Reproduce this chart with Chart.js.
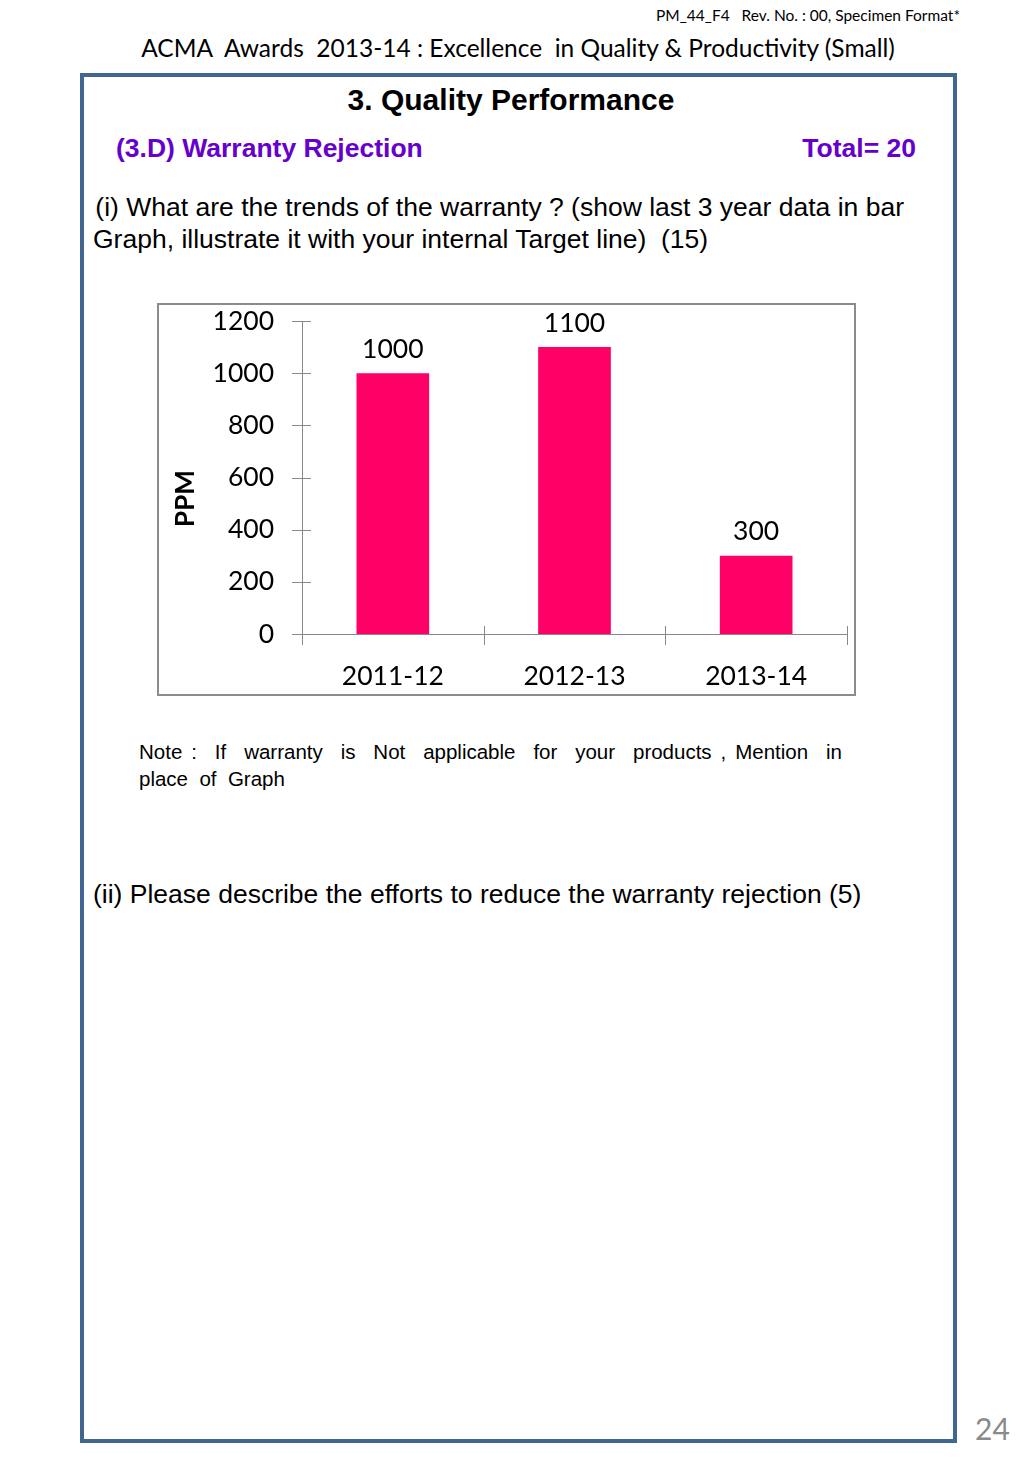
<!DOCTYPE html>
<html>
<head>
<meta charset="utf-8">
<script src="https://cdn.jsdelivr.net/npm/chart.js@4.4.0/dist/chart.umd.min.js"></script>
<style>
  body { margin: 0; background: #fff; width: 1024px; height: 1479px; position: relative; overflow: hidden; }
  .t { position: absolute; white-space: pre; line-height: 1; }
  .cal { font-family: Lato, "Open Sans", sans-serif; }
  .ar { font-family: "Liberation Sans", Arial, sans-serif; }
  #frame { position: absolute; left: 80px; top: 73px; width: 877px; height: 1370px; box-sizing: border-box; border: 4px solid #41668f; }
  #box { position: absolute; left: 157px; top: 303px; width: 699px; height: 393px; box-sizing: border-box; border: 2px solid #8c8c8c; }
  #chartWrap { position: absolute; left: 157px; top: 303px; width: 699px; height: 393px; }
</style>
</head>
<body>
<div class="t cal" style="right:64px; top:8px; font-size:15.5px;">PM_44_F4   Rev. No. : 00, Specimen Format*</div>
<div class="t cal" style="left:0; width:1036px; text-align:center; top:36px; font-size:24.5px;">ACMA  Awards  2013-14 : Excellence  in Quality &amp; Productivity (Small)</div>
<div id="frame"></div>
<div class="t ar" style="left:0; width:1022px; text-align:center; top:85px; font-size:30px; font-weight:bold;">3. Quality Performance</div>
<div class="t ar" style="left:116px; top:135px; font-size:26.5px; font-weight:bold; color:#6600cc;">(3.D) Warranty Rejection</div>
<div class="t ar" style="right:108px; top:135px; font-size:26.5px; font-weight:bold; color:#6600cc;">Total= 20</div>
<div class="t ar" style="left:88px; top:194px; font-size:26.5px;"> (i) What are the trends of the warranty ? (show last 3 year data in bar</div>
<div class="t ar" style="left:93px; top:226px; font-size:26.5px;">Graph, illustrate it with your internal Target line)  (15)</div>
<div id="box"></div>
<div id="chartWrap"><canvas id="chart" width="699" height="393"></canvas></div>
<div class="t ar" style="left:139px; top:742px; font-size:20.5px; width:703px; text-align:justify; text-align-last:justify;">Note :  If  warranty  is  Not  applicable  for  your  products , Mention  in</div>
<div class="t ar" style="left:139px; top:769px; font-size:20.5px;">place  of  Graph</div>
<div class="t ar" style="left:93px; top:881px; font-size:26.5px;">(ii) Please describe the efforts to reduce the warranty rejection (5)</div>
<div class="t cal" style="left:975px; top:1413px; font-size:30px; color:#8a8a8a;">24</div>
<script>
// dados do grafico
const years = ["2011-12", "2012-13", "2013-14"];
const ppm = [1000, 1100, 300];
const yTicks = [0, 200, 400, 600, 800, 1000, 1200];
const yTitle = "PPM";

const axisColor = "#888888";
const chartFont = "Lato, 'Open Sans', sans-serif";

// marcas que cruzam os eixos, como no grafico original
const crossTicks = {
  id: "crossTicks",
  afterDraw(chart) {
    const ctx = chart.ctx;
    const x = chart.scales.x, y = chart.scales.y;
    ctx.save();
    ctx.strokeStyle = axisColor;
    ctx.lineWidth = 1;
    yTicks.forEach(v => {
      const py = Math.round(y.getPixelForValue(v)) + 0.5;
      ctx.beginPath();
      ctx.moveTo(x.left - 10, py);
      ctx.lineTo(x.left + 9, py);
      ctx.stroke();
    });
    const n = years.length;
    for (let i = 0; i <= n; i++) {
      const px = Math.round(x.left + i * (x.width / n)) + 0.5;
      ctx.beginPath();
      ctx.moveTo(px, y.bottom - 8);
      ctx.lineTo(px, y.bottom + 11);
      ctx.stroke();
    }
    // titulo do eixo Y, um pouco abaixo do centro como no original
    ctx.fillStyle = "#000";
    ctx.font = "bold 26px " + chartFont;
    ctx.textAlign = "center";
    ctx.textBaseline = "middle";
    ctx.translate(29, (y.top + y.bottom) / 2 + 21);
    ctx.rotate(-Math.PI / 2);
    ctx.fillText(yTitle, 0, 0);
    ctx.restore();
  }
};

// rotulos de valor acima das barras
const valueLabels = {
  id: "valueLabels",
  afterDatasetsDraw(chart) {
    const ctx = chart.ctx;
    const meta = chart.getDatasetMeta(0);
    ctx.save();
    ctx.font = "26.5px " + chartFont;
    ctx.fillStyle = "#000";
    ctx.textAlign = "center";
    ctx.textBaseline = "middle";
    meta.data.forEach((bar, i) => {
      ctx.fillText(String(ppm[i]), bar.x, bar.y - 24);
    });
    ctx.restore();
  }
};

new Chart(document.getElementById("chart"), {
  type: "bar",
  data: {
    labels: years,
    datasets: [{
      data: ppm,
      backgroundColor: "#ff0066",
      borderWidth: 0,
      categoryPercentage: 0.8,
      barPercentage: 0.5
    }]
  },
  options: {
    responsive: false,
    animation: false,
    layout: { padding: { top: 18, right: 9, left: 0, bottom: 0 } },
    plugins: { legend: { display: false }, tooltip: { enabled: false } },
    scales: {
      x: {
        grid: { display: false },
        border: { display: true, color: axisColor, width: 1 },
        ticks: { color: "#000", font: { family: chartFont, size: 26.5 }, padding: 19 },
        afterFit(s) { s.height = 62; s.paddingLeft = 0; s.paddingRight = 0; }
      },
      y: {
        min: 0,
        max: 1200,
        afterBuildTicks(s) { s.ticks = yTicks.map(v => ({ value: v })); },
        grid: { display: false },
        border: { display: true, color: axisColor, width: 1 },
        ticks: {
          color: "#000",
          font: { family: chartFont, size: 26.5 },
          padding: 20,
          callback: v => String(v)
        },
        afterFit(s) { s.width = 145; s.paddingTop = 0; s.paddingBottom = 0; }
      }
    }
  },
  plugins: [crossTicks, valueLabels]
});
</script>
</body>
</html>
